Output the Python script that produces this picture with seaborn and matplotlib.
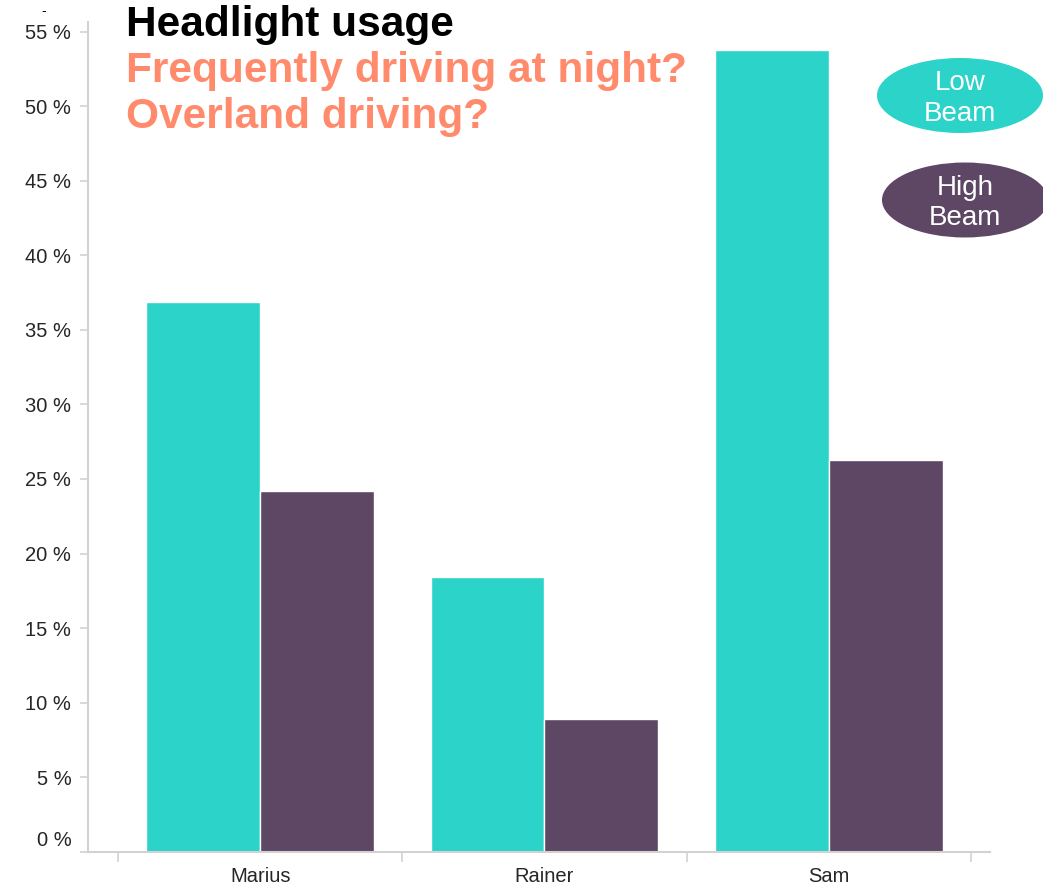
import matplotlib
matplotlib.use("Agg")
import matplotlib.pyplot as plt
import matplotlib.transforms as mtransforms
from matplotlib.patches import Ellipse
import seaborn as sns
import pandas as pd

# Share of headlight usage per driver
drivers = ["Marius", "Rainer", "Sam"]
low_beam = [36.9, 18.4, 53.8]
high_beam = [24.2, 8.9, 26.3]
series_names = ["Low Beam", "High Beam"]
y_ticks = [0, 5, 10, 15, 20, 25, 30, 35, 40, 45, 50, 55]

LOW_COLOR = "#2bd3c9"
HIGH_COLOR = "#5e4764"
TITLE_ACCENT = "#ff8b6c"
AXIS_GREY = "#d2d2d2"

df = pd.DataFrame({
    "driver": drivers * 2,
    "beam": [series_names[0]] * len(drivers) + [series_names[1]] * len(drivers),
    "share": low_beam + high_beam,
})

sns.set_theme(style="white")
plt.rcParams["font.family"] = ["Liberation Sans", "DejaVu Sans"]

W, H = 1043, 886
fig = plt.figure(figsize=(W / 100, H / 100), dpi=100)
ax = fig.add_axes([88 / W, 1 - 851.7 / H, (990 - 88) / W, (851.7 - 21.7) / H])

sns.barplot(
    data=df, x="driver", y="share", hue="beam",
    hue_order=series_names, order=drivers,
    palette=[LOW_COLOR, HIGH_COLOR], width=0.8,
    edgecolor="white", linewidth=1.0, saturation=1.0,
    legend=False, ax=ax,
)

ax.set_xlim(-0.5 - 30 / 284.5, 2.5 + 19 / 284.5)
ax.set_ylim(0, 55.67)
ax.set_xlabel("")
ax.set_ylabel("")

for side in ("top", "right"):
    ax.spines[side].set_visible(False)
for side in ("left", "bottom"):
    ax.spines[side].set_color(AXIS_GREY)
    ax.spines[side].set_linewidth(1.5)

# y axis: percent labels
ax.set_yticks(y_ticks)
ax.set_yticklabels([f"{v} %" for v in y_ticks])
ax.tick_params(axis="y", left=True, length=6, width=1.2, color=AXIS_GREY, pad=6,
               labelsize=14.5, labelcolor="#262626")

# x axis: ticks on band boundaries, labels at band centres
ax.set_xticks([i - 0.5 for i in range(len(drivers) + 1)])
ax.set_xticklabels([])
ax.set_xticks(range(len(drivers)), minor=True)
ax.set_xticklabels(drivers, minor=True)
ax.tick_params(axis="x", which="major", bottom=True, length=7.5, width=1.2,
               color=AXIS_GREY)
ax.tick_params(axis="x", which="minor", bottom=True, length=0, pad=11,
               labelsize=14.5, labelcolor="#262626")

# lift the zero label above the baseline
zero_label = ax.get_yticklabels()[0]
zero_label.set_transform(zero_label.get_transform() +
                         mtransforms.ScaledTranslation(0, 13 / 100, fig.dpi_scale_trans))

# titles
fig.text(126 / W, 1 - 36 / H, "Headlight usage", fontsize=30.5, fontweight="bold",
         color="black", va="baseline", ha="left")
fig.text(126 / W, 1 - 82 / H, "Frequently driving at night?", fontsize=30.5,
         fontweight="bold", color=TITLE_ACCENT, va="baseline", ha="left")
fig.text(126 / W, 1 - 128 / H, "Overland driving?", fontsize=30.5,
         fontweight="bold", color=TITLE_ACCENT, va="baseline", ha="left")
fig.text(41 / W, 1 - 11 / H, "-", fontsize=10, color="black", va="center", ha="left")

# ellipse legend in pixel space
overlay = fig.add_axes([0, 0, 1, 1], facecolor="none")
overlay.set_xlim(0, W)
overlay.set_ylim(H, 0)
overlay.axis("off")
legend_items = [
    (series_names[0], LOW_COLOR, (960, 95.5)),
    (series_names[1], HIGH_COLOR, (965, 200)),
]
for name, color, (cx, cy) in legend_items:
    overlay.add_patch(Ellipse((cx, cy), 166, 75, facecolor=color, edgecolor="none"))
    overlay.text(cx, cy + 3, name.replace(" ", "\n"), color="white", fontsize=20,
                 ha="center", va="center", linespacing=1.22)

fig.savefig("out.png", dpi=100)
